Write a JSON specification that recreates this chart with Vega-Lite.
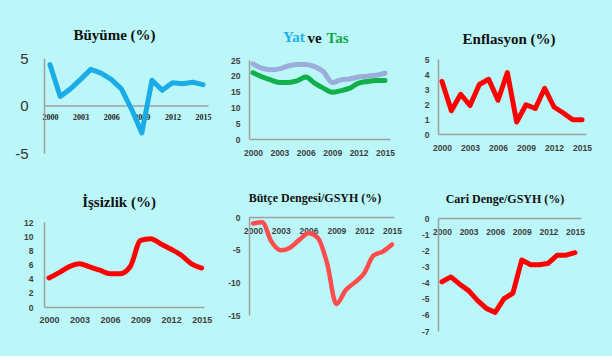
{
  "$schema": "https://vega.github.io/schema/vega-lite/v6.json",
  "background": "#BBF7F9",
  "autosize": {"type": "pad"},
  "padding": {"left": 0, "top": 27, "right": 27, "bottom": 20},
  "config": {
    "view": {"stroke": null},
    "axis": {
      "domainColor": "#A0A0A0", "domainWidth": 1.5, "ticks": false, "grid": false,
      "labelFont": "Liberation Sans", "labelFontWeight": "bold", "labelFontSize": 8.5,
      "labelColor": "#404040", "labelOverlap": false, "labelFlush": false,
      "labelExpr": "replace(datum.label, '\u2212', '-')"
    },
    "title": {"font": "Liberation Serif", "fontWeight": "bold", "fontSize": 15, "color": "#111111", "baseline": "alphabetic", "frame": "group"},
    "line": {"strokeWidth": 5, "strokeJoin": "round", "strokeCap": "round"}
  },
  "data": {"values": [
    {"year": 2000, "buyume": 4.3, "yat": 23.8, "tas": 21.0, "enf": 3.5, "issiz": 4.1, "butce": -1.0, "cari": -3.95},
    {"year": 2001, "buyume": 0.95, "yat": 22.4, "tas": 19.7, "enf": 1.55, "issiz": 4.85, "butce": -0.8, "cari": -3.65},
    {"year": 2002, "buyume": 1.75, "yat": 21.9, "tas": 18.7, "enf": 2.65, "issiz": 5.7, "butce": -3.8, "cari": -4.1},
    {"year": 2003, "buyume": 2.75, "yat": 22.2, "tas": 17.9, "enf": 1.9, "issiz": 6.1, "butce": -5.1, "cari": -4.5},
    {"year": 2004, "buyume": 3.8, "yat": 23.1, "tas": 17.9, "enf": 3.3, "issiz": 5.65, "butce": -4.7, "cari": -5.1},
    {"year": 2005, "buyume": 3.4, "yat": 23.6, "tas": 18.4, "enf": 3.65, "issiz": 5.2, "butce": -3.5, "cari": -5.6},
    {"year": 2006, "buyume": 2.75, "yat": 23.6, "tas": 19.6, "enf": 2.25, "issiz": 4.7, "butce": -2.5, "cari": -5.85},
    {"year": 2007, "buyume": 1.75, "yat": 22.9, "tas": 17.7, "enf": 4.1, "issiz": 4.7, "butce": -3.2, "cari": -5.0},
    {"year": 2008, "buyume": -0.4, "yat": 21.3, "tas": 16.1, "enf": 0.8, "issiz": 5.75, "butce": -7.1, "cari": -4.65},
    {"year": 2009, "buyume": -2.9, "yat": 17.9, "tas": 14.8, "enf": 1.95, "issiz": 9.4, "butce": -13.3, "cari": -2.6},
    {"year": 2010, "buyume": 2.65, "yat": 18.7, "tas": 15.3, "enf": 1.7, "issiz": 9.65, "butce": -11.2, "cari": -2.9},
    {"year": 2011, "buyume": 1.6, "yat": 19.0, "tas": 16.1, "enf": 3.05, "issiz": 8.9, "butce": -10.0, "cari": -2.9},
    {"year": 2012, "buyume": 2.4, "yat": 19.6, "tas": 17.7, "enf": 1.8, "issiz": 8.15, "butce": -8.6, "cari": -2.8},
    {"year": 2013, "buyume": 2.3, "yat": 19.9, "tas": 18.2, "enf": 1.4, "issiz": 7.3, "butce": -5.9, "cari": -2.3},
    {"year": 2014, "buyume": 2.45, "yat": 20.2, "tas": 18.5, "enf": 0.95, "issiz": 6.1, "butce": -5.3, "cari": -2.3},
    {"year": 2015, "buyume": 2.2, "yat": 20.8, "tas": 18.5, "enf": 0.95, "issiz": 5.5, "butce": -4.2, "cari": -2.15}
  ]},
  "bounds": "flush",
  "columns": 3,
  "align": {"row": "each", "column": "none"},
  "spacing": {"row": 64, "column": 34},
  "concat": [
    {
      "width": 171, "height": 95,
      "title": {"text": "Büyüme (%)", "anchor": "middle", "dx": -15, "offset": 8.5},
      "mark": {"type": "line", "color": "#1AACE6"},
      "encoding": {
        "x": {"field": "year", "type": "quantitative",
          "scale": {"domain": [1999.41, 2015.49], "range": [0, 164], "nice": false, "zero": false},
          "axis": {"title": null, "values": [2000, 2003, 2006, 2009, 2012, 2015], "format": "d", "offset": -47.5,
            "labelFont": "Liberation Serif", "labelFontSize": 8, "labelColor": "#222222", "labelPadding": 7.5}},
        "y": {"field": "buyume", "type": "quantitative",
          "scale": {"domain": [-5, 5], "nice": false},
          "axis": {"title": null, "values": [-5, 0, 5], "labelFontSize": 15, "labelFontWeight": "normal", "labelColor": "#333333",
            "labelPadding": 16, "minExtent": 44, "maxExtent": 44}}
      }
    },
    {
      "width": 141, "height": 81,
      "title": {"text": "Yat", "color": "#1EB1E8", "anchor": "start", "dx": 34, "offset": -14.5},
      "resolve": {"axis": {"x": "independent", "y": "independent"}},
      "encoding": {
        "x": {"field": "year", "type": "quantitative",
          "scale": {"domain": [1999.55, 2015.57], "nice": false, "zero": false}}
      },
      "layer": [
        {
          "mark": {"type": "line", "color": "#9AADDB", "interpolate": "monotone"},
          "encoding": {
            "x": {"field": "year", "type": "quantitative",
              "axis": {"title": null, "values": [2000, 2003, 2006, 2009, 2012, 2015], "format": "d", "labelPadding": 9}},
            "y": {"field": "yat", "type": "quantitative",
              "scale": {"domain": [0, 25], "range": [81, 2], "nice": false},
              "axis": {"title": null, "values": [0, 5, 10, 15, 20, 25], "labelPadding": 9}}
          }
        },
        {
          "mark": {"type": "line", "color": "#12B04B", "interpolate": "monotone"},
          "encoding": {
            "x": {"field": "year", "type": "quantitative",
              "axis": {"orient": "top", "title": "ve", "domain": false, "labels": false, "ticks": false,
                "titleFont": "Liberation Serif", "titleFontWeight": "bold", "titleFontSize": 15, "titleColor": "#111111",
                "titleX": 58, "titleY": -15.3, "titleAlign": "left", "titleBaseline": "alphabetic", "titleAnchor": null}},
            "y": {"field": "tas", "type": "quantitative",
              "axis": {"orient": "right", "title": "Tas", "domain": false, "labels": false, "ticks": false,
                "titleFont": "Liberation Serif", "titleFontWeight": "bold", "titleFontSize": 15, "titleColor": "#12A84A",
                "titleAngle": 0, "titleX": -64, "titleY": -15.3, "titleAlign": "left", "titleBaseline": "alphabetic", "titleAnchor": null}}
          }
        }
      ]
    },
    {
      "width": 148, "height": 76,
      "title": {"text": "Enflasyon (%)", "anchor": "middle", "dx": -3, "offset": 8.5},
      "mark": {"type": "line", "color": "#FF0000"},
      "encoding": {
        "x": {"field": "year", "type": "quantitative",
          "scale": {"domain": [1999.57, 2015.43], "nice": false, "zero": false},
          "axis": {"title": null, "values": [2000, 2003, 2006, 2009, 2012, 2015], "format": "d", "labelPadding": 9}},
        "y": {"field": "enf", "type": "quantitative",
          "scale": {"domain": [0, 5], "range": [76, 1], "nice": false},
          "axis": {"title": null, "values": [0, 1, 2, 3, 4, 5], "labelPadding": 9}}
      }
    },
    {
      "width": 170, "height": 90,
      "title": {"text": "İşsizlik (%)", "anchor": "middle", "dx": -10, "offset": 7.3},
      "mark": {"type": "line", "color": "#FF0000", "interpolate": "monotone"},
      "encoding": {
        "x": {"field": "year", "type": "quantitative",
          "scale": {"domain": [1999.51, 2015.23], "range": [0, 160], "nice": false, "zero": false},
          "axis": {"title": null, "values": [2000, 2003, 2006, 2009, 2012, 2015], "format": "d", "labelPadding": 8.5, "labelFontSize": 9}},
        "y": {"field": "issiz", "type": "quantitative",
          "scale": {"domain": [0, 12], "range": [90, 5], "nice": false},
          "axis": {"title": null, "values": [0, 2, 4, 6, 8, 10, 12], "labelPadding": 11}}
      }
    },
    {
      "width": 155, "height": 98,
      "title": {"text": "Bütçe Dengesi/GSYH (%)", "anchor": "middle", "dx": -11.5, "offset": 7.75, "fontSize": 12},
      "mark": {"type": "line", "color": "#FF4D4D", "interpolate": "monotone", "strokeWidth": 4.5},
      "encoding": {
        "x": {"field": "year", "type": "quantitative",
          "scale": {"domain": [1999.57, 2015.22], "range": [0, 145], "nice": false, "zero": false},
          "axis": {"title": null, "values": [2000, 2003, 2006, 2009, 2012, 2015], "format": "d", "labelPadding": 9.3, "offset": -98}},
        "y": {"field": "butce", "type": "quantitative",
          "scale": {"domain": [-15, 0], "nice": false},
          "axis": {"title": null, "values": [-15, -10, -5, 0], "labelPadding": 9}}
      }
    },
    {
      "width": 143, "height": 114,
      "title": {"text": "Cari Denge/GSYH (%)", "anchor": "middle", "dx": -4.5, "offset": 8.25, "fontSize": 12},
      "mark": {"type": "line", "color": "#FF0000"},
      "encoding": {
        "x": {"field": "year", "type": "quantitative",
          "scale": {"domain": [1999.55, 2015.68], "nice": false, "zero": false},
          "axis": {"title": null, "values": [2000, 2003, 2006, 2009, 2012, 2015], "format": "d", "labelPadding": 9.3, "offset": -113}},
        "y": {"field": "cari", "type": "quantitative",
          "scale": {"domain": [-7, 0], "range": [114, 1], "nice": false},
          "axis": {"title": null, "values": [-7, -6, -5, -4, -3, -2, -1, 0], "labelPadding": 9}}
      }
    }
  ]
}
